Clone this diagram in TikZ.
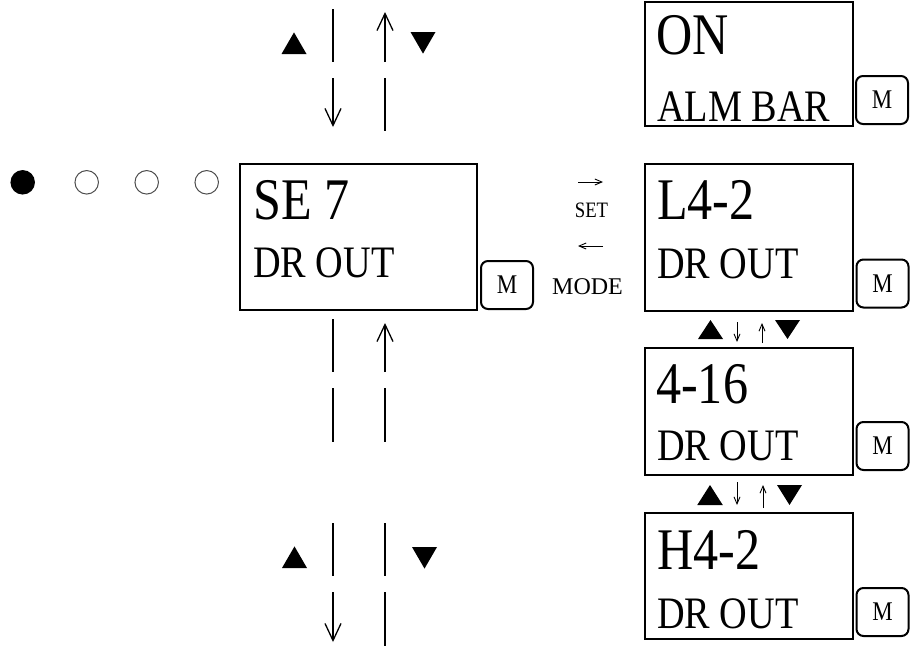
\documentclass[tikz,border=0pt]{standalone}
\usepackage{fontspec}
\setmainfont{Liberation Serif}
\newfontfamily\nar[FakeStretch=0.85]{Liberation Serif}
\usetikzlibrary{arrows.meta}
\newcommand\tri[4]{\fill (#1-#4,#2) -- (#1+#4,#2) -- (#1,#3) -- cycle;}
\tikzset{
  screen/.style={draw, line width=2.4pt, inner sep=0pt, outer sep=0pt},
  mbtn/.style={draw, line width=2pt, rounded corners=7pt, minimum width=52pt, minimum height=48pt, inner sep=0pt, font=\nar\fontsize{27}{27}\selectfont},
  big/.style={anchor=base west, inner sep=0pt, font=\nar\fontsize{59}{60}\selectfont},
  small/.style={anchor=base west, inner sep=0pt, font=\nar\fontsize{45}{46}\selectfont},
  bar/.style={line width=2pt},
  bigarrow/.style={line width=1.3pt, -{Straight Barb[length=17pt,width=16pt,line width=1.3pt]}},
  tinyarrow/.style={line width=0.9pt, -{Straight Barb[length=7pt,width=6pt,line width=0.9pt]}},
  dot/.style={circle, inner sep=0pt, minimum size=24.5pt},
}
\begin{document}
\begin{tikzpicture}[x=1pt,y=-1pt]
\useasboundingbox (0,0) rectangle (912,646);
% indicator dots
\node[dot, fill=black] (d1) at (22.7,182.3) {};
\node[dot, draw=black!70, line width=1pt, minimum size=23.5pt] (d2) at (86.7,182.3) {};
\node[dot, draw=black!70, line width=1pt, minimum size=23.5pt] (d3) at (146.7,182.3) {};
\node[dot, draw=black!70, line width=1pt, minimum size=23.5pt] (d4) at (206.7,182.3) {};
% screens
\node[screen, minimum width=208pt, minimum height=124pt] (on) at (749,64) {};
\node[screen, minimum width=237pt, minimum height=146pt] (se7) at (358.5,237) {};
\node[screen, minimum width=208pt, minimum height=147pt] (l42) at (749,237.5) {};
\node[screen, minimum width=208pt, minimum height=127pt] (b416) at (749,411.5) {};
\node[screen, minimum width=208pt, minimum height=126pt] (h42) at (749,576) {};
% texts
\node[big] (tOn) at (656,54) {ON};
\node[small] (tAlm) at (657,121) {ALM BAR};
\node[big] (tSe) at (253,219) {SE 7};
\node[small] (tDr1) at (253,277) {DR OUT};
\node[big] (tL) at (657,219) {L4-2};
\node[small] (tDr2) at (657,278) {DR OUT};
\node[big] (t416) at (656,403) {4-16};
\node[small] (tDr3) at (657,460) {DR OUT};
\node[big] (tH) at (657,569) {H4-2};
\node[small] (tDr4) at (657,628) {DR OUT};
% M buttons
\node[mbtn] (m1) at (882,100) {M};
\node[mbtn] (m2) at (507,285) {M};
\node[mbtn] (m3) at (882.5,283.5) {M};
\node[mbtn] (m4) at (882.5,446) {M};
\node[mbtn] (m5) at (882.5,612) {M};
% SET / MODE
\node[anchor=base, inner sep=0pt, font=\nar\fontsize{22}{22}\selectfont] (set) at (591.5,217) {SET};
\node[anchor=base, inner sep=0pt, font=\fontsize{24}{24}\selectfont] (mode) at (587.5,294) {MODE};
\coordinate (r1a) at (578,182); \coordinate (r1b) at (603,182);
\coordinate (r2a) at (603,246); \coordinate (r2b) at (578,246);
\draw[tinyarrow] (r1a) -- (r1b);
\draw[tinyarrow] (r2a) -- (r2b);
% top section
\coordinate (a1) at (333,9);   \coordinate (a2) at (333,62);
\coordinate (a3) at (385,62);  \coordinate (a4) at (385,12);
\coordinate (a5) at (333,78);  \coordinate (a6) at (333,127);
\coordinate (a7) at (385,78);  \coordinate (a8) at (385,131);
\draw[bar] (a1) -- (a2);
\draw[bigarrow] (a3) -- (a4);
\draw[bigarrow] (a5) -- (a6);
\draw[bar] (a7) -- (a8);
\tri{294}{54}{32.4}{12.5}
\tri{423}{32}{53.6}{12.5}
% middle section
\coordinate (b1) at (333,319); \coordinate (b2) at (333,372);
\coordinate (b3) at (385,372); \coordinate (b4) at (385,323);
\coordinate (b5) at (333,388); \coordinate (b6) at (333,442);
\coordinate (b7) at (385,388); \coordinate (b8) at (385,442);
\draw[bar] (b1) -- (b2);
\draw[bigarrow] (b3) -- (b4);
\draw[bar] (b5) -- (b6);
\draw[bar] (b7) -- (b8);
% bottom section
\coordinate (c1) at (333,523); \coordinate (c2) at (333,576);
\coordinate (c3) at (385,523); \coordinate (c4) at (385,576);
\coordinate (c5) at (333,592); \coordinate (c6) at (333,642);
\coordinate (c7) at (385,592); \coordinate (c8) at (385,646);
\draw[bar] (c1) -- (c2);
\draw[bar] (c3) -- (c4);
\draw[bigarrow] (c5) -- (c6);
\draw[bar] (c7) -- (c8);
\tri{294.5}{568}{546.4}{12.5}
\tri{424.5}{547}{568.6}{12.5}
% right small arrows (between L4-2 and 4-16)
\tri{710.5}{339}{320}{12.5}
\tri{787.5}{320}{339}{12.5}
\coordinate (e1) at (737,322); \coordinate (e2) at (737,342);
\coordinate (e3) at (762,343); \coordinate (e4) at (762,323);
\draw[tinyarrow] (e1) -- (e2);
\draw[tinyarrow] (e3) -- (e4);
% right small arrows (between 4-16 and H4-2)
\tri{710}{505}{485}{12.75}
\tri{789.5}{485}{505}{12.5}
\coordinate (f1) at (737,482); \coordinate (f2) at (737,505);
\coordinate (f3) at (763,508); \coordinate (f4) at (763,485);
\draw[tinyarrow] (f1) -- (f2);
\draw[tinyarrow] (f3) -- (f4);
\end{tikzpicture}
\end{document}
